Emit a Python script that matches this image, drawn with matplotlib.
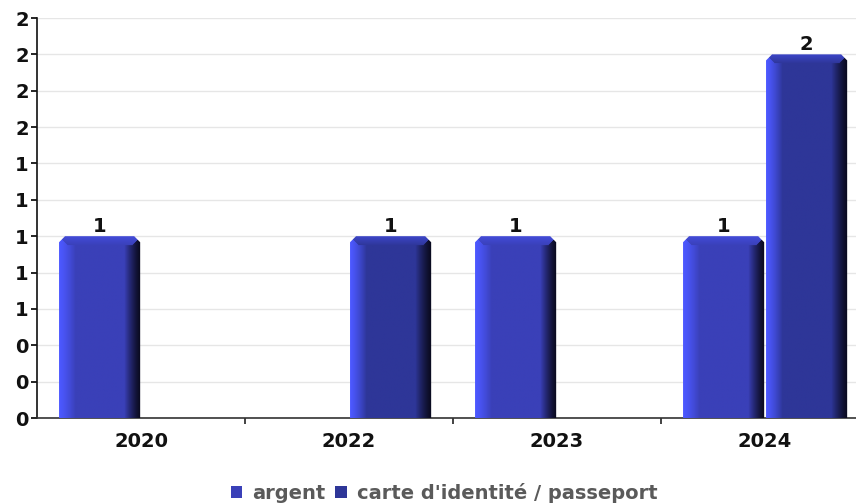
import numpy as np
import matplotlib
matplotlib.use('Agg')
import matplotlib.pyplot as plt
from matplotlib.patches import Polygon, Patch
from matplotlib.ticker import FuncFormatter, FixedLocator

years = ['2020', '2022', '2023', '2024']
argent = [1, 0, 1, 1]
carte = [0, 1, 0, 2]
series_names = ['argent', "carte d'identité / passeport"]
series_colors = ['#3a40b8', '#2e3698']

plt.rcParams['font.family'] = 'DejaVu Sans'

fig = plt.figure(figsize=(8.56, 5.04), dpi=100)
ax = fig.add_axes([37/856, 86/504, 819/856, 400/504])
xmax = 819/208


def bar3d(x0, w, h, col):
    # pixel sizes of the bar
    pw = int(round(w * 208))
    ph = int(round(h * 180))
    face = np.array(matplotlib.colors.to_rgb(col))
    light = np.array(matplotlib.colors.to_rgb('#4c58ff'))
    dark = np.array(matplotlib.colors.to_rgb('#0a0a1e'))
    top = face * 0.55 + light * 0.45
    img = np.zeros((ph, pw, 3))
    edge = 16
    for i in range(ph):
        for j in range(pw):
            dl, dr, dt = j, pw - 1 - j, i
            if dt < 9 and dt <= dl and dt <= dr:
                t = dt / 9
                c = top * (1 - t) + face * t
            elif dl < edge and dl <= dr:
                t = (dl / edge) ** 1.3
                c = light * (1 - t) + face * t
            elif dr < edge:
                t = (dr / edge) ** 1.3
                c = dark * (1 - t) + face * t
            else:
                c = face
            img[i, j] = c
    im = ax.imshow(img, extent=(x0, x0 + w, 0, h), aspect='auto',
                   interpolation='bilinear', zorder=3)
    cx, cy = 6/208, 6/180
    poly = Polygon([(x0, 0), (x0, h - cy), (x0 + cx, h), (x0 + w - cx, h),
                    (x0 + w, h - cy), (x0 + w, 0)], closed=True,
                   transform=ax.transData, facecolor='none', edgecolor='none')
    ax.add_patch(poly)
    im.set_clip_path(poly)
    ax.text(x0 + w/2, h, f'{h}', ha='center', va='bottom',
            fontsize=14, fontweight='bold', color='#111111', zorder=4)


bw = 0.39
for i in range(len(years)):
    if argent[i] > 0:
        bar3d(i + 0.106, bw, argent[i], series_colors[0])
    if carte[i] > 0:
        bar3d(i + 0.505, bw, carte[i], series_colors[1])

ax.set_aspect('auto')
ax.set_xlim(0, xmax)
ax.set_ylim(0, 2.2)

yt = np.arange(0, 2.21, 0.2)
ax.yaxis.set_major_locator(FixedLocator(yt))
ax.yaxis.set_major_formatter(FuncFormatter(lambda v, p: f'{v:.0f}'))
ax.yaxis.grid(True, color='#e6e6e6', lw=1)
ax.set_axisbelow(True)

ax.set_xticks([i + 0.5 for i in range(len(years))])
ax.set_xticklabels(years)
ax.set_xticks([1, 2, 3], minor=True)
ax.tick_params(axis='x', which='major', length=0, pad=10)
ax.tick_params(axis='x', which='minor', length=4, width=1.2, color='#222222')
ax.tick_params(axis='y', length=4, width=1.2, pad=2)
for lab in ax.get_xticklabels() + ax.get_yticklabels():
    lab.set_fontsize(14)
    lab.set_fontweight('bold')
    lab.set_color('#111111')

for s in ['top', 'right']:
    ax.spines[s].set_visible(False)
ax.spines['left'].set_linewidth(1.2)
ax.spines['left'].set_color('#111111')
ax.spines['bottom'].set_linewidth(1.2)
ax.spines['bottom'].set_color('#333333')

handles = [Patch(facecolor=c, edgecolor='none') for c in series_colors]
leg = fig.legend(handles, series_names, loc='center', bbox_to_anchor=(444/856, 1 - 493/504),
                 ncol=2, frameon=False, handlelength=0.6, handleheight=0.6,
                 handletextpad=0.5, columnspacing=0.5,
                 prop={'size': 14, 'weight': 'bold'})
for t in leg.get_texts():
    t.set_color('#5a5a5a')

fig.savefig('out.png', dpi=100)
